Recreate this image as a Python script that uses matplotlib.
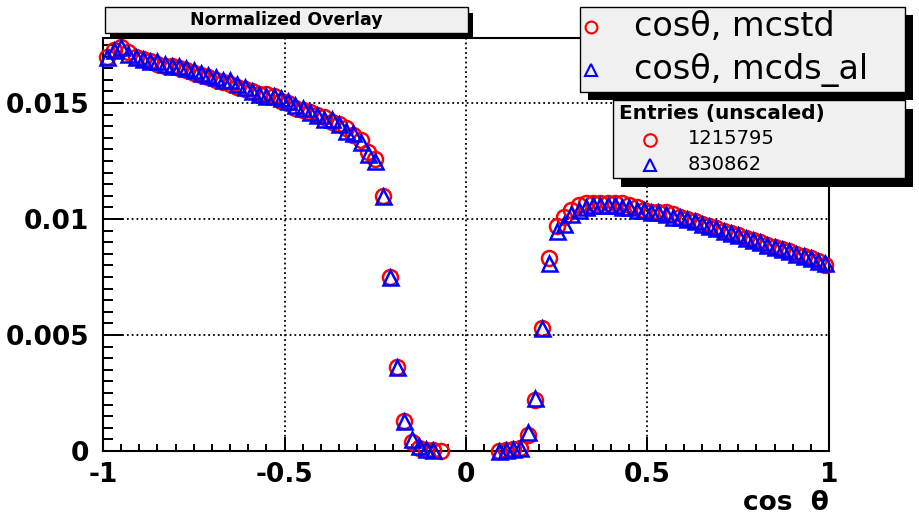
#!/usr/bin/env python3
"""Normalized overlay of cos(theta) for mcstd vs mcds_al, ROOT-style."""

import matplotlib

matplotlib.use("Agg")
import matplotlib.pyplot as plt
import numpy as np
from matplotlib.lines import Line2D
from matplotlib.patches import Rectangle
from matplotlib.ticker import MultipleLocator, FixedLocator

W, H = 919, 520

# histogram binning: 100 bins over [-1, 1]
bin_lo, bin_hi, n_bins = -1.0, 1.0, 100
nan = np.nan

# normalized bin contents (empty bins are nan, not drawn)
mcstd = [
    0.0170, 0.0173, 0.0174, 0.0172, 0.0170, 0.0169, 0.0168, 0.0167, 0.0166, 0.0166,
    0.0165, 0.0164, 0.0163, 0.0162, 0.0161, 0.0160, 0.0159, 0.0158, 0.0157, 0.0156,
    0.0155, 0.0154, 0.0154, 0.0153, 0.0151, 0.0150, 0.0148, 0.0147, 0.0146, 0.0145,
    0.0144, 0.0142, 0.0141, 0.0139, 0.0136, 0.0134, 0.0129, 0.0126, 0.0110, 0.0075,
    0.0036, 0.0013, 0.0004, 0.00015, 0.00006, 0.00003, 0.00002, nan, nan, nan,
    nan, nan, nan, nan, 0.00002, 0.00004, 0.00008, 0.00015, 0.0007, 0.0022,
    0.0053, 0.0083, 0.0097, 0.0101, 0.0104, 0.0106, 0.0107, 0.0107, 0.0107, 0.0107,
    0.0107, 0.0107, 0.0106, 0.0105, 0.0104, 0.0103, 0.0103, 0.0103, 0.0102, 0.0101,
    0.0100, 0.0099, 0.0098, 0.0097, 0.0096, 0.0095, 0.0094, 0.0093, 0.0092, 0.0091,
    0.0090, 0.0089, 0.0088, 0.0087, 0.0086, 0.0085, 0.0084, 0.0083, 0.0082, 0.0080,
]
mcds_al = [
    0.0170, 0.0173, 0.0174, 0.0171, 0.0170, 0.0169, 0.0168, 0.0168, 0.0167, 0.0166,
    0.0166, 0.0165, 0.0164, 0.0163, 0.0162, 0.0161, 0.0160, 0.0160, 0.0158, 0.0157,
    0.0155, 0.0154, 0.0153, 0.0153, 0.0152, 0.0151, 0.0149, 0.0148, 0.0146, 0.0145,
    0.0143, 0.0143, 0.0141, 0.0138, 0.0137, 0.0133, 0.0128, 0.0125, 0.0110, 0.0075,
    0.0036, 0.0013, 0.0005, 0.0002, 0.00008, 0.00004, nan, nan, nan, nan,
    nan, nan, nan, nan, 0.00002, 0.00004, 0.00007, 0.00012, 0.0008, 0.0023,
    0.0053, 0.0081, 0.0095, 0.0098, 0.0102, 0.0104, 0.0105, 0.0106, 0.0106, 0.0106,
    0.0106, 0.0105, 0.0105, 0.0104, 0.0104, 0.0103, 0.0103, 0.0102, 0.0101, 0.0101,
    0.0100, 0.0099, 0.0098, 0.0097, 0.0096, 0.0095, 0.0094, 0.0093, 0.0092, 0.0091,
    0.0090, 0.0089, 0.0088, 0.0087, 0.0086, 0.0085, 0.0084, 0.0083, 0.0082, 0.0081,
]
series_labels = ["cos\u03b8, mcstd", "cos\u03b8, mcds_al"]
entries = ["1215795", "830862"]
x_ticks = [-1, -0.5, 0, 0.5, 1]
x_tick_labels = ["-1", "-0.5", "0", "0.5", "1"]
y_ticks = [0, 0.005, 0.01, 0.015]
y_tick_labels = ["0", "0.005", "0.01", "0.015"]

BOX_FILL = "#f0f0f0"


def fx(px):
    return px / W


def fy(py):
    return 1 - py / H


def shadow_box(fig, x0, y0, x1, y1, dx, dy):
    fig.add_artist(Rectangle((fx(x0 + dx), fy(y1 + dy)), fx(x1 - x0), (y1 - y0) / H,
                             transform=fig.transFigure, facecolor="black",
                             edgecolor="none", zorder=4))
    fig.add_artist(Rectangle((fx(x0), fy(y1)), fx(x1 - x0), (y1 - y0) / H,
                             transform=fig.transFigure, facecolor=BOX_FILL,
                             edgecolor="black", linewidth=1.0, zorder=5))


def marker_at(fig, px, py, marker, color, ms):
    fig.add_artist(Line2D([fx(px)], [fy(py)], transform=fig.transFigure,
                          marker=marker, markersize=ms, markerfacecolor="none",
                          markeredgecolor=color, markeredgewidth=1.5,
                          linestyle="none", zorder=6))


def main():
    centers = np.linspace(bin_lo, bin_hi, n_bins + 1)
    centers = 0.5 * (centers[:-1] + centers[1:])

    fig = plt.figure(figsize=(W / 100, H / 100), dpi=100)
    ax = fig.add_axes([fx(103), fy(451), fx(829 - 103), (451 - 38) / H])

    ax.plot(centers, mcstd, linestyle="none", marker="o", markersize=10.8,
            markerfacecolor="none", markeredgecolor="#ff0000", markeredgewidth=1.8,
            clip_on=False, zorder=3)
    ax.plot(centers, mcds_al, linestyle="none", marker="^", markersize=10.8,
            markerfacecolor="none", markeredgecolor="#0000ff", markeredgewidth=1.8,
            clip_on=False, zorder=4)

    ax.set_xlim(-1, 1)
    ax.set_ylim(0, 0.0178)
    ax.xaxis.set_major_locator(FixedLocator(x_ticks))
    ax.set_xticklabels(x_tick_labels)
    ax.xaxis.set_minor_locator(MultipleLocator(0.05))
    ax.yaxis.set_major_locator(FixedLocator(y_ticks))
    ax.set_yticklabels(y_tick_labels)
    ax.yaxis.set_minor_locator(MultipleLocator(0.0005))

    ax.tick_params(axis="both", which="both", direction="in", width=1.4,
                   top=False, right=False, labelsize=19)
    ax.tick_params(axis="x", which="major", length=10, pad=8)
    ax.tick_params(axis="x", which="minor", length=5)
    ax.tick_params(axis="y", which="major", length=14.5, pad=10)
    ax.tick_params(axis="y", which="minor", length=7)
    for lab in ax.get_xticklabels() + ax.get_yticklabels():
        lab.set_fontweight("bold")

    ax.grid(True, which="major", color="black", linestyle=":", linewidth=1.3)
    for side in ax.spines.values():
        side.set_linewidth(1.5)

    fig.text(fx(829), fy(503), "cos  \u03b8", ha="right", va="center",
             fontsize=19, fontweight="bold")

    # title box
    shadow_box(fig, 105, 7, 468, 33, 5, 6)
    fig.text(fx(286), fy(20), "Normalized Overlay", ha="center", va="center",
             fontsize=12.5, fontweight="bold", zorder=7)

    # series legend
    shadow_box(fig, 580, 7, 905, 92, 8, 8)
    marker_at(fig, 591, 27, "o", "#ff0000", 8.5)
    marker_at(fig, 591, 70, "^", "#0000ff", 8.5)
    fig.text(fx(634), fy(27), series_labels[0], ha="left", va="center",
             fontsize=24, zorder=7)
    fig.text(fx(634), fy(70), series_labels[1], ha="left", va="center",
             fontsize=24, zorder=7)

    # entries box
    shadow_box(fig, 613, 100, 905, 178, 8, 9)
    fig.text(fx(619), fy(113), "Entries (unscaled)", ha="left", va="center",
             fontsize=14.4, fontweight="bold", zorder=7)
    marker_at(fig, 650, 140, "o", "#ff0000", 9)
    marker_at(fig, 650, 165, "^", "#0000ff", 9)
    fig.text(fx(688), fy(139), entries[0], ha="left", va="center",
             fontsize=14, zorder=7)
    fig.text(fx(688), fy(165), entries[1], ha="left", va="center",
             fontsize=14, zorder=7)

    fig.savefig("out.png", dpi=100)
    plt.close(fig)


if __name__ == "__main__":
    main()
